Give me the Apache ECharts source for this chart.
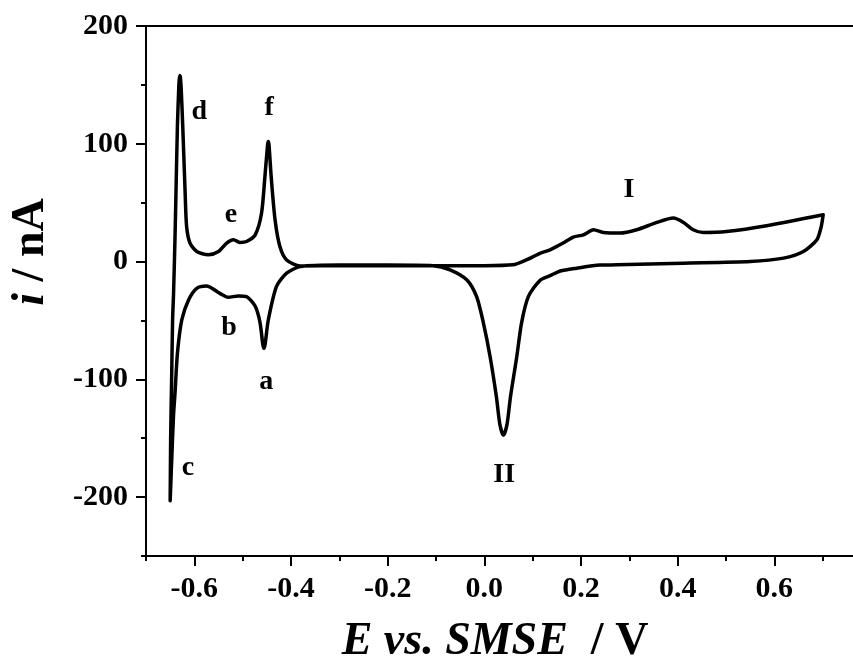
<!DOCTYPE html>
<html>
<head>
<meta charset="utf-8">
<script src="https://cdn.jsdelivr.net/npm/echarts@6/dist/echarts.min.js"></script>
<style>
html,body{margin:0;padding:0;background:#fff;}
#chart{width:853px;height:661px;}
</style>
</head>
<body>
<div id="chart"></div>
<script>
// Cathodic sweep (0.7 V -> -0.65 V): potential E (V) and current i (nA)
var cathodicE = [0.701, 0.697, 0.688, 0.660, 0.619, 0.550, 0.411, 0.274, 0.239, 0.191, 0.157, 0.136, 0.115, 0.091, 0.077, 0.067, 0.054, 0.047, 0.0395, 0.032, 0.025, 0.012, -0.002, -0.016, -0.036, -0.071, -0.106, -0.2, -0.3, -0.381, -0.409, -0.430, -0.447, -0.4535, -0.456, -0.4585, -0.464, -0.474, -0.492, -0.509, -0.530, -0.547, -0.575, -0.595, -0.612, -0.626, -0.635, -0.640, -0.643, -0.646, -0.650];
var cathodicI = [39.7, 29.8, 18.5, 8.5, 2.9, 0, -1.4, -2.8, -3, -5.6, -8, -12, -16, -29.8, -52, -81, -115, -138, -147.5, -138, -115, -81, -52, -29.8, -15.6, -7, -3.5, -3, -3, -4.3, -9.9, -21, -49.6, -70, -73.7, -70, -52, -38, -29.8, -29.2, -30.3, -27, -20.7, -22.7, -32.6, -49.6, -78, -112, -130, -160, -203];
// Anodic sweep (-0.65 V -> 0.7 V)
var anodicE = [-0.650, -0.649, -0.647, -0.645, -0.643, -0.640, -0.638, -0.635, -0.632, -0.6305, -0.629, -0.627, -0.624, -0.619, -0.616, -0.609, -0.595, -0.571, -0.550, -0.533, -0.519, -0.505, -0.492, -0.474, -0.461, -0.454, -0.4485, -0.447, -0.4455, -0.441, -0.433, -0.423, -0.409, -0.381, -0.3, -0.2, -0.1, 0.0, 0.059, 0.087, 0.115, 0.136, 0.163, 0.184, 0.205, 0.226, 0.246, 0.281, 0.315, 0.357, 0.391, 0.412, 0.432, 0.453, 0.501, 0.584, 0.701];
var anodicI = [-203, -150, -100, -50, -27, 20, 58, 115, 150, 158, 157, 145, 115, 58, 29.8, 15.7, 8.5, 5.7, 8.5, 15.7, 18.5, 16.2, 17, 22.7, 41, 72, 99, 102, 99, 72, 35.5, 12.8, 1.4, -3.7, -3.5, -3.5, -3.5, -3.5, -2.8, 1.4, 7, 10, 15.7, 20.8, 22.7, 27, 24.7, 24.2, 27, 33.2, 36.9, 33.2, 27, 24.7, 25.5, 30.4, 39.7];

// Peak labels
var annText = ['d', 'f', 'e', 'b', 'a', 'c', 'II', 'I'];
var annE = [-0.590, -0.445, -0.524, -0.528, -0.451, -0.613, 0.041, 0.299];
var annI = [127, 131, 40, -56, -102, -175, -181, 61];

// Axis ticks
var xMajorTicks = [-0.6, -0.4, -0.2, 0.0, 0.2, 0.4, 0.6];
var xMinorTicks = [-0.7, -0.5, -0.3, -0.1, 0.1, 0.3, 0.5, 0.7];
var yMajorTicks = [-200, -100, 0, 100, 200];
var yMinorTicks = [-250, -150, -50, 50, 150];

var loop = [];
for (var k = 0; k < cathodicE.length; k++) loop.push([cathodicE[k], cathodicI[k]]);
for (var k2 = 1; k2 < anodicE.length; k2++) loop.push([anodicE[k2], anodicI[k2]]);

var ann = [];
for (var j = 0; j < annText.length; j++) ann.push({ name: annText[j], value: [annE[j], annI[j]] });

var FONT = '"Liberation Serif", "Times New Roman", serif';
var chart = echarts.init(document.getElementById('chart'));
var xMin = -0.7, xMax = 0.7627, yMin = -250, yMax = 200;

chart.setOption({
  animation: false,
  backgroundColor: '#fff',
  grid: { left: 146, top: 26, bottom: 105, right: 0, show: false },
  xAxis: [
    {
      type: 'value', min: xMin, max: xMax, gridIndex: 0, position: 'bottom',
      splitLine: { show: false },
      axisLine: { show: true, onZero: false, lineStyle: { color: '#000', width: 2 } },
      axisTick: { show: true, length: 10, customValues: xMajorTicks, lineStyle: { color: '#000', width: 2 } },
      axisLabel: { customValues: xMajorTicks, margin: 18, color: '#000', fontFamily: FONT, fontWeight: 'bold', fontSize: 30,
        formatter: function (v) { return v.toFixed(1); } }
    },
    {
      type: 'value', min: xMin, max: xMax, gridIndex: 0, position: 'bottom',
      splitLine: { show: false },
      axisLine: { show: false, onZero: false },
      axisTick: { show: true, length: 5, customValues: xMinorTicks, lineStyle: { color: '#000', width: 2 } },
      axisLabel: { show: false }
    },
    {
      type: 'value', min: xMin, max: xMax, gridIndex: 0, position: 'top',
      splitLine: { show: false },
      axisLine: { show: true, onZero: false, lineStyle: { color: '#000', width: 2 } },
      axisTick: { show: false },
      axisLabel: { show: false }
    }
  ],
  yAxis: [
    {
      type: 'value', min: yMin, max: yMax, gridIndex: 0, position: 'left',
      splitLine: { show: false },
      axisLine: { show: true, onZero: false, lineStyle: { color: '#000', width: 2 } },
      axisTick: { show: true, length: 10, customValues: yMajorTicks, lineStyle: { color: '#000', width: 2 } },
      axisLabel: { customValues: yMajorTicks, margin: 18, color: '#000', fontFamily: FONT, fontWeight: 'bold', fontSize: 30 }
    },
    {
      type: 'value', min: yMin, max: yMax, gridIndex: 0, position: 'left',
      splitLine: { show: false },
      axisLine: { show: false, onZero: false },
      axisTick: { show: true, length: 5, customValues: yMinorTicks, lineStyle: { color: '#000', width: 2 } },
      axisLabel: { show: false }
    }
  ],
  series: [
    {
      type: 'line', xAxisIndex: 0, yAxisIndex: 0, data: loop,
      showSymbol: false, symbol: 'none', smooth: 0.25,
      lineStyle: { color: '#000', width: 3.5, join: 'round', cap: 'round' }
    },
    {
      type: 'scatter', xAxisIndex: 0, yAxisIndex: 0, data: ann, symbolSize: 1,
      itemStyle: { color: 'rgba(0,0,0,0)', opacity: 1 },
      label: { show: true, position: 'inside', formatter: '{b}', color: '#000', opacity: 1, fontFamily: FONT, fontWeight: 'bold', fontSize: 28 }
    }
  ],
  graphic: [
    {
      type: 'text', x: 495, y: 642,
      style: {
        text: '{a|E vs. SMSE}{b|  / V}',
        align: 'center', verticalAlign: 'middle',
        rich: {
          a: { fontFamily: FONT, fontWeight: 'bold', fontStyle: 'italic', fontSize: 46, fill: '#000' },
          b: { fontFamily: FONT, fontWeight: 'bold', fontSize: 46, fill: '#000' }
        }
      }
    },
    {
      type: 'text', x: 31, y: 252, rotation: Math.PI / 2,
      style: {
        text: '{a|i}{b| / nA}',
        align: 'center', verticalAlign: 'middle',
        rich: {
          a: { fontFamily: FONT, fontWeight: 'bold', fontStyle: 'italic', fontSize: 46, fill: '#000' },
          b: { fontFamily: FONT, fontWeight: 'bold', fontSize: 46, fill: '#000' }
        }
      }
    }
  ]
});
</script>
</body>
</html>
